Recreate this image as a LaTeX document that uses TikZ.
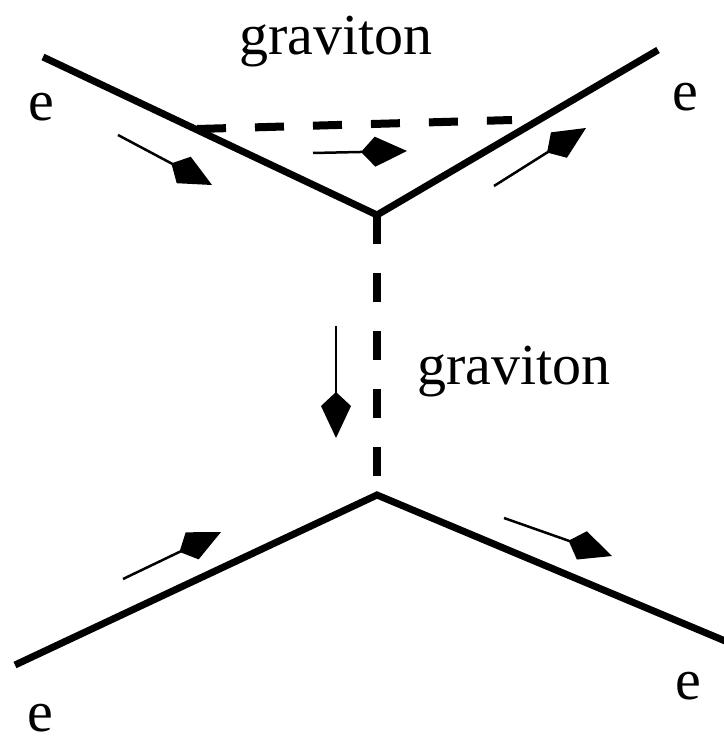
\documentclass[tikz,border=0pt]{standalone}
\usepackage{fontspec}
\setmainfont{Liberation Serif}
\usetikzlibrary{arrows.meta}
\tikzset{
  fermion/.style={line width=7pt, line cap=butt, line join=miter},
  gravline/.style={line width=8pt, dash pattern=on 29pt off 29pt},
  momarrow/.style={line width=2.5pt, -{Kite[length=46pt,width=30pt,inset=14pt]}},
  lbl/.style={font=\fontsize{58}{60}\selectfont, inner sep=0pt, text depth=0pt},
}
\begin{document}
\begin{tikzpicture}[x=1pt,y=-1pt]
\useasboundingbox (0,0) rectangle (723,743);
% vertices and line ends
\coordinate (vt) at (377,215);
\coordinate (vb) at (377,495);
\coordinate (ul) at (43,57);
\coordinate (ur) at (658,50);
\coordinate (ll) at (15,665);
\coordinate (lr) at (730,643);
% fermion lines
\draw[fermion] (ul) -- (vt) -- (ur);
\draw[fermion] (ll) -- (vb) -- (lr);
% graviton lines
\coordinate (gs) at (197,129);
\coordinate (ge) at (512,120);
\draw[gravline] (gs) -- (ge);
\draw[gravline] (vt) -- (vb);
% momentum arrows
\coordinate (a1s) at (118,135);
\coordinate (a1e) at (212,185);
\coordinate (a2s) at (313,153);
\coordinate (a2e) at (407,151);
\coordinate (a3s) at (494,186);
\coordinate (a3e) at (586,128);
\coordinate (a4s) at (336,326);
\coordinate (a4e) at (336,438);
\coordinate (a5s) at (123,579);
\coordinate (a5e) at (221,532);
\coordinate (a6s) at (504,518);
\coordinate (a6e) at (612,556);
\draw[momarrow] (a1s) -- (a1e);
\draw[momarrow] (a2s) -- (a2e);
\draw[momarrow] (a3s) -- (a3e);
\draw[momarrow] (a4s) -- (a4e);
\draw[momarrow] (a5s) -- (a5e);
\draw[momarrow] (a6s) -- (a6e);
% labels
\node[lbl, anchor=base west] (g1) at (239,55) {graviton};
\node[lbl, anchor=base west] (g2) at (417,384) {graviton};
\node[lbl, anchor=base] (e1) at (41,121) {e};
\node[lbl, anchor=base] (e2) at (685,111) {e};
\node[lbl, anchor=base] (e3) at (40,731) {e};
\node[lbl, anchor=base] (e4) at (688,699) {e};
\end{tikzpicture}
\end{document}
